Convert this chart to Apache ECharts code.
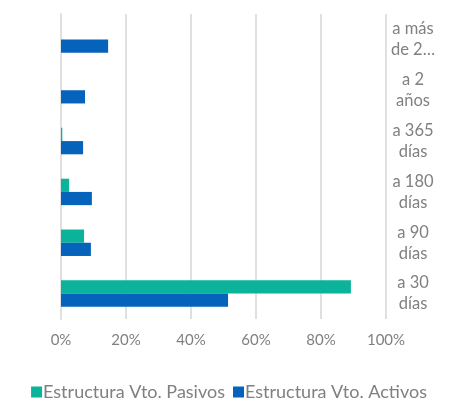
<!DOCTYPE html>
<html><head><meta charset="utf-8">
<script src="https://cdn.jsdelivr.net/npm/echarts@6/dist/echarts.min.js"></script>
<style>html,body{margin:0;padding:0;background:#fff}#c{width:458px;height:407px}</style>
</head><body><div id="c"></div>
<script>
var categories = ['a 30\ndías', 'a 90\ndías', 'a 180\ndías', 'a 365\ndías', 'a 2\naños', 'a más\nde 2…'];
var pasivos = [89.2, 7.1, 2.5, 0.4, 0, 0];
var activos = [51.4, 9.2, 9.5, 6.8, 7.4, 14.5];
var xTicks = [0, 20, 40, 60, 80, 100];

var chart = echarts.init(document.getElementById('c'));
chart.setOption({
  animation: false,
  textStyle: { fontFamily: 'Lato' },
  grid: { left: 61, right: 72, top: 14, bottom: 88 },
  xAxis: {
    type: 'value', min: 0, max: 100, interval: 20,
    axisLabel: { formatter: function(v){ return xTicks.indexOf(v) >= 0 ? v + '%' : ''; }, color: '#808080', fontSize: 15, margin: 14, fontFamily: 'Lato' },
    splitLine: { lineStyle: { color: '#e0e0e0', width: 2 } },
    axisLine: { show: false }, axisTick: { show: false }
  },
  yAxis: {
    type: 'category', data: categories, position: 'right',
    axisLine: { show: true, lineStyle: { color: '#e0e0e0', width: 2 } },
    axisTick: { show: false },
    axisLabel: { color: '#808080', fontSize: 16.5, align: 'center', margin: 27, lineHeight: 21, fontFamily: 'Lato', padding: [0,0,3,0] }
  },
  legend: {
    bottom: 1, left: 'center', itemWidth: 11, itemHeight: 11, itemGap: 8,
    icon: 'rect',
    textStyle: { color: '#808080', fontSize: 18, fontFamily: 'Lato', padding: [0,0,0,-4] },
    data: ['Estructura Vto. Pasivos', 'Estructura Vto. Activos']
  },
  series: [
    { name: 'Estructura Vto. Pasivos', type: 'bar', data: pasivos, barGap: '0%', barCategoryGap: '48%',
      itemStyle: { color: '#0BB39A' } },
    { name: 'Estructura Vto. Activos', type: 'bar', data: activos, barGap: '0%', barCategoryGap: '48%',
      itemStyle: { color: '#0563BB' } }
  ]
});
</script></body></html>
